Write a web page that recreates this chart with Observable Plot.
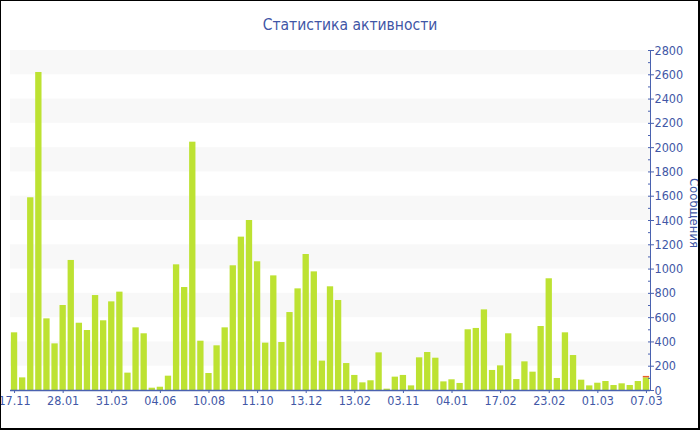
<!DOCTYPE html>
<html>
<head>
<meta charset="utf-8">
<script src="https://cdn.jsdelivr.net/npm/d3@7"></script>
<script src="https://cdn.jsdelivr.net/npm/@observablehq/plot@0.6"></script>
<style>
  html, body { margin: 0; padding: 0; background: #fff; }
  #chart { position: relative; width: 700px; height: 430px; overflow: hidden; background: #fff;
           font-family: "DejaVu Sans Condensed", "DejaVu Sans", sans-serif; }
  #title { position: absolute; left: 0; right: 0; top: 15px; text-align: center;
           font-size: 15.5px; color: #3f56a6; line-height: 20px; }
  #plot { position: absolute; left: 0; top: 40px; }
  #border { position: absolute; inset: 0; box-sizing: border-box; pointer-events: none;
            border-style: solid; border-color: #000; border-width: 1px 2px 2px 1px; }
</style>
</head>
<body>
<div id="chart">
  <div id="title">Статистика активности</div>
  <div id="plot"></div>
  <div id="border"></div>
</div>
<script>
const tickLabels = ["17.11","28.01","31.03","04.06","10.08","11.10","13.12","13.02","03.11","04.01","17.02","23.02","01.03","07.03"];
const messages = [475,104,1587,2619,590,384,700,1071,554,494,
                  782,574,730,810,143,516,467,19,27,118,
                  1035,848,2045,406,140,368,516,1027,1263,1400,
                  1060,390,944,395,642,837,1120,977,242,854,
                  741,222,124,63,80,310,11,110,124,38,
                  269,313,266,71,88,58,500,511,664,165,
                  203,467,90,236,151,527,920,99,475,288,
                  85,38,60,74,41,55,41,74,104];
const newMessages = [0,0,0,0,0,0,0,0,0,0, 0,0,0,0,0,0,0,0,0,0,
                     0,0,0,0,0,0,0,0,0,0, 0,0,0,0,0,0,0,0,0,0,
                     0,0,0,0,0,0,0,0,0,0, 0,0,0,0,0,0,0,0,0,0,
                     0,0,0,0,0,0,0,0,0,0, 0,0,0,0,0,0,0,0,12];
const yTicks = [0,200,400,600,800,1000,1200,1400,1600,1800,2000,2200,2400,2600,2800];
const yLabel = "Сообщения";

const textColor = "#4257a6";
const axisColor = "#4a62b0";

const idx = messages.map((_, i) => i);
const table = [];
idx.forEach(i => {
  table.push({i, v: messages[i], kind: "msg"});
  table.push({i, v: newMessages[i], kind: "new"});
});
const bands = [];
for (let k = 0; k + 1 < yTicks.length; k++) {
  if (k % 2 === 1) bands.push({lo: yTicks[k], hi: yTicks[k + 1]});
}
const xTicks = tickLabels.map((_, j) => j * 6);
const minorTicks = d3.range(0, 2801, 100);

const chart = Plot.plot({
  width: 700,
  height: 390,
  marginTop: 10,
  marginBottom: 40,
  marginLeft: 10,
  marginRight: 50,
  style: {fontFamily: "\"DejaVu Sans Condensed\", \"DejaVu Sans\", sans-serif", fontSize: "12.5px", background: "transparent"},
  x: {type: "band", domain: idx, paddingInner: 0.22, paddingOuter: 0.11, round: false},
  y: {domain: [0, 2800]},
  color: {domain: ["msg", "new"], range: ["#bde232", "#e8602c"]},
  marks: [
    Plot.rect(bands, {y1: "lo", y2: "hi", fill: "#f8f8f8"}),
    Plot.barY(table, {x: "i", y: "v", fill: "kind"}),
    Plot.ruleY([0], {stroke: axisColor, strokeWidth: 1.3}),
    Plot.frame({anchor: "right", stroke: axisColor}),
    Plot.axisX({ticks: xTicks, tickFormat: i => tickLabels[i / 6], tickSize: 3, tickPadding: 3,
                stroke: axisColor, fill: textColor, label: null}),
    Plot.axisY({anchor: "right", ticks: yTicks, tickFormat: d => String(d), tickSize: 3, tickPadding: 1,
                stroke: axisColor, fill: textColor, label: null}),
    Plot.axisY({anchor: "right", ticks: minorTicks, tickSize: 3, dx: -3, text: null,
                stroke: axisColor, label: null})
  ]
});

d3.select(chart).append("text")
  .attr("transform", "translate(690,173) rotate(90)")
  .attr("text-anchor", "middle")
  .attr("fill", textColor)
  .style("font-size", "13px")
  .text(yLabel);

document.getElementById("plot").appendChild(chart);
</script>
</body>
</html>
